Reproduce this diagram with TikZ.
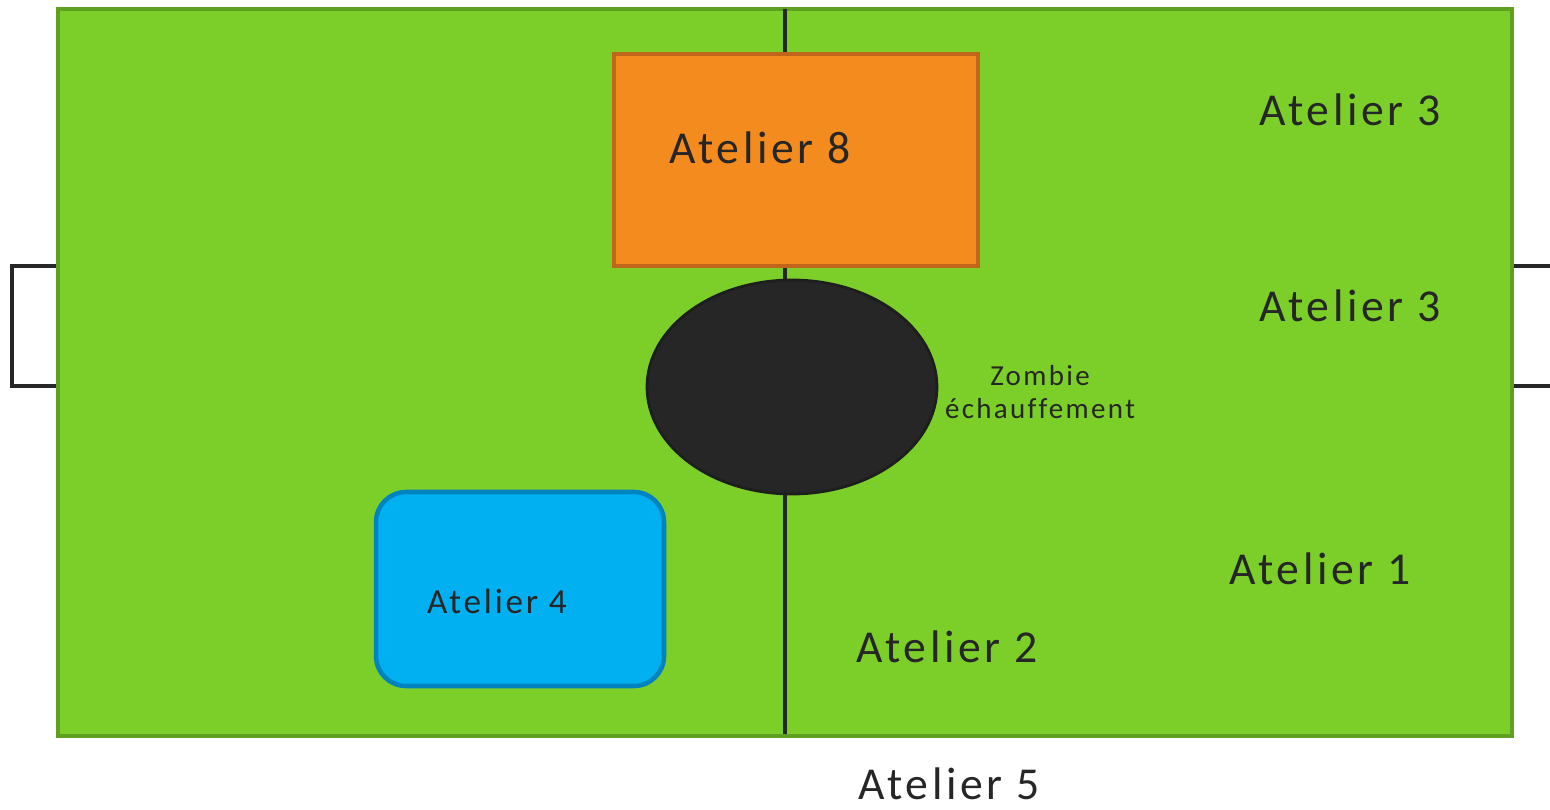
\documentclass[tikz,border=0pt]{standalone}
\usepackage{fontspec}
\setmainfont[LetterSpace=8,Ligatures=NoCommon]{Carlito}
\usepackage{tikz}
\usetikzlibrary{positioning}
\usetikzlibrary{shapes.geometric}
\definecolor{pitch}{RGB}{124,207,41}
\definecolor{pitchline}{RGB}{96,160,32}
\definecolor{ink}{RGB}{38,38,38}
\definecolor{orangebox}{RGB}{243,139,31}
\definecolor{orangeline}{RGB}{192,101,26}
\definecolor{bluebox}{RGB}{0,176,240}
\definecolor{blueline}{RGB}{0,131,190}
\tikzset{
  x=0.02cm, y=-0.02cm,
  zone/.style={text=ink, font=\fontsize{26}{30}\selectfont, inner sep=0},
  smallzone/.style={text=ink, font=\fontsize{20}{24}\selectfont, inner sep=0},
  tinyzone/.style={text=ink, font=\fontsize{16.5}{19}\selectfont, inner sep=0, align=center},
  goal/.style={draw=ink, line width=2.6pt},
  midline/.style={draw=ink, line width=2.8pt}
}
\begin{document}
\begin{tikzpicture}
      \useasboundingbox (0,0) rectangle (1550,810);
      \coordinate (f1) at (58,9);
      \coordinate (f2) at (1512,736);
      \coordinate (m1) at (785,9);
      \coordinate (m2) at (785,734);
      \draw[goal] (58,266) -- (12,266) -- (12,386) -- (58,386);
      \draw[goal] (1512,266) -- (1552,266);
      \draw[goal] (1512,386) -- (1552,386);
      \draw[fill=pitch, draw=pitchline, line width=2.3pt] (f1) rectangle (f2);
      \draw[midline] (m1) -- (m2);
      \node[draw=orangeline, fill=orangebox, line width=2pt, minimum width=7.28cm, minimum height=4.24cm] (a8box) at (796,160) {};
      \node[ellipse, draw=ink!80!black, fill=ink, line width=1.6pt, minimum width=5.8cm, minimum height=4.28cm] (zombie) at (792,387) {};
      \node[draw=blueline, fill=bluebox, line width=2.6pt, rounded corners=0.6cm, minimum width=5.76cm, minimum height=3.88cm] (a4box) at (520,589) {};
      \node[zone] (a8) at (760,148) {Atelier 8};
      \node[smallzone] (a4) at (497,601) {Atelier 4};
      \node[zone] (a3top) at (1350,110) {Atelier 3};
      \node[zone] (a3mid) at (1350,306) {Atelier 3};
      \node[tinyzone] (zlabel) at (1040,392) {Zombie\\[0pt]échauffement};
      \node[zone] (a1) at (1320,569) {Atelier 1};
      \node[zone] (a2) at (947,647) {Atelier 2};
      \node[zone] (a5) at (949,784) {Atelier 5};
    \end{tikzpicture}
\end{document}
